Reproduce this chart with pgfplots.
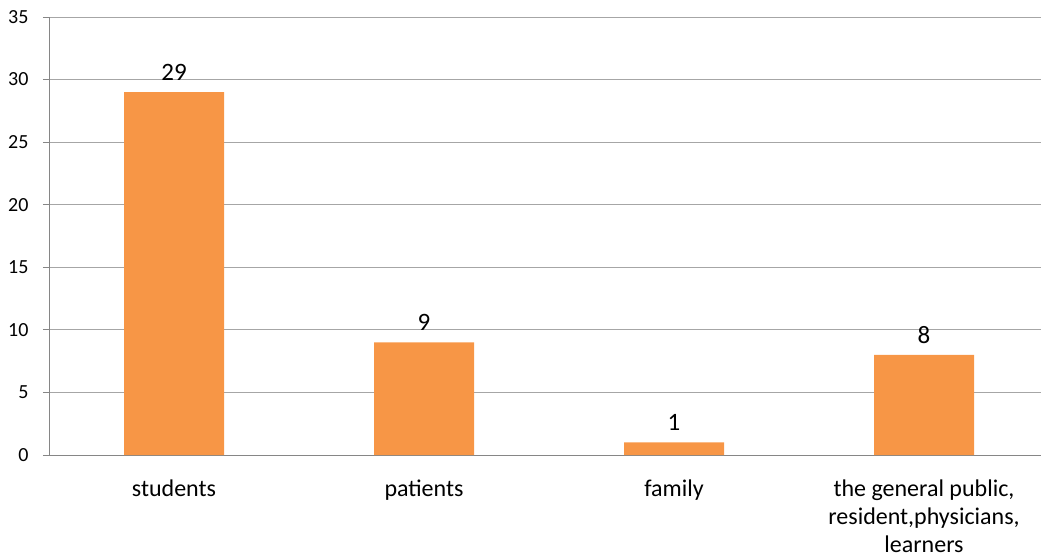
\documentclass[border=0pt]{standalone}
\usepackage{pgfplots}
\pgfplotsset{compat=1.18}
\usepackage{fontspec}
\setmainfont{Carlito}
\definecolor{barorange}{HTML}{F79646}
\definecolor{gridgray}{HTML}{A6A6A6}
\definecolor{axisgray}{HTML}{868686}
\begin{document}
\begin{tikzpicture}[x=1pt,y=1pt]
\useasboundingbox (0,0) rectangle (1041,557);
\begin{axis}[
  at={(49pt,102pt)}, anchor=south west,
  scale only axis,
  width=992pt, height=438pt,
  xmin=0, xmax=3.968,
  ymin=0, ymax=35,
  ytick={0,5,...,35},
  yticklabels={0,5,10,15,20,25,30,35},
  xtick={0.5,1.5,2.5,3.5},
  xticklabels={students,patients,family,{the general public,\\resident,physicians,\\learners}},
  x tick label style={align=center, font={\fontsize{24}{28}\selectfont}, yshift=-15pt},
  y tick label style={font={\fontsize{20}{24}\selectfont}, xshift=-11pt},
  major x tick style={draw=none},
  extra x ticks={0,1,2,3,4},
  extra x tick labels={},
  extra x tick style={major tick length=7pt, tick style={draw=axisgray, line width=0.8pt}, tick align=outside},
  tick align=outside,
  major tick length=6pt,
  y tick style={draw=axisgray, line width=0.8pt},
  ymajorgrids,
  grid style={gridgray, line width=0.8pt},
  axis x line*=bottom,
  axis y line*=left,
  axis line style={axisgray, line width=0.8pt, -},
  ybar, bar width=100pt,
  clip=false,
  nodes near coords={\pgfmathprintnumber[assume math mode=true]{\pgfplotspointmeta}},
  nodes near coords style={font=\fontsize{25}{30}\selectfont, text=black, yshift=8pt},
]
\addplot[fill=barorange, draw=none] coordinates {(0.5,29) (1.5,9) (2.5,1) (3.5,8)};
\end{axis}
\end{tikzpicture}
\end{document}
